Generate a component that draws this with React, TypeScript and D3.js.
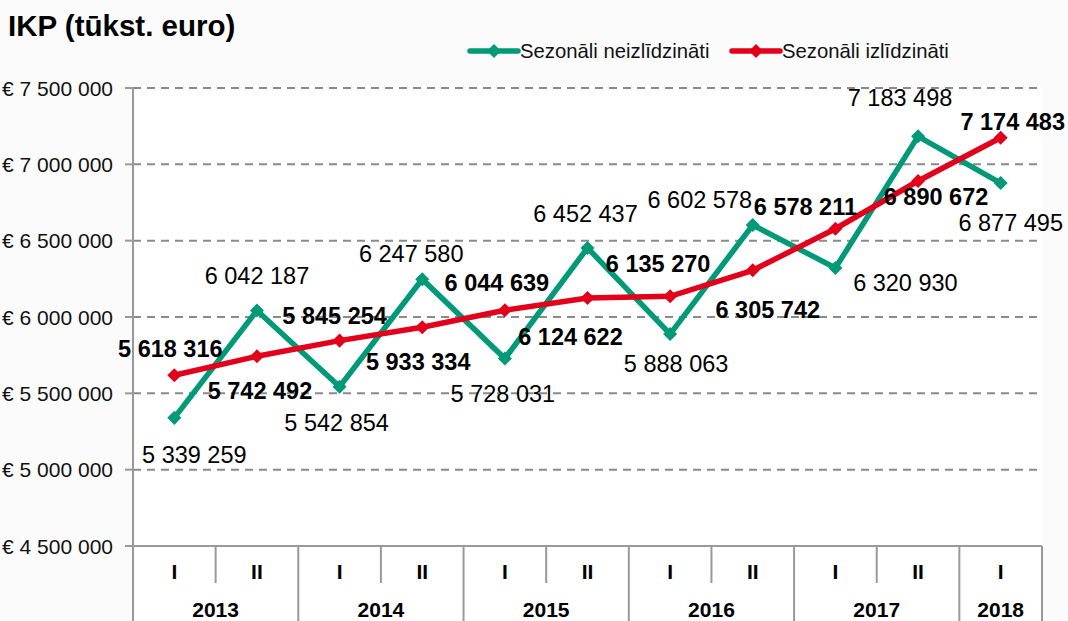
import React, { useEffect, useRef } from "react";
import * as d3 from "d3";

const periods = ["I", "II", "I", "II", "I", "II", "I", "II", "I", "II", "I"];
const years = ["2013", "2013", "2014", "2014", "2015", "2015", "2016", "2016", "2017", "2017", "2018"];
const notAdjusted = [5339259, 6042187, 5542854, 6247580, 5728031, 6452437, 5888063, 6602578, 6320930, 7183498, 6877495];
const adjusted = [5618316, 5742492, 5845254, 5933334, 6044639, 6124622, 6135270, 6305742, 6578211, 6890672, 7174483];
const yTicks = [4500000, 5000000, 5500000, 6000000, 6500000, 7000000, 7500000];

// label nudges (px) relative to each point
const greenOffsets = [[20, 37], [0, -35], [-3, 36], [-11, -26], [-2, 35], [-2, -34], [6, 29], [-53, -25], [70, 15], [-18, -39], [10, 40]];
const redOffsets = [[-4, -27], [3, 34], [-5, -25], [-4, 34], [-8, -28], [-17, 39], [-12, -33], [15, 39], [-30, -22], [18, 16], [12, -16]];

const GREEN = "#009a78";
const RED = "#e2001a";
const FONT = "'Liberation Sans', Arial, sans-serif";

const Chart = () => {
  const ref = useRef<SVGSVGElement>(null);

  useEffect(() => {
    document.body.style.margin = "0";
    const width = 1068;
    const height = 621;
    const left = 133;
    const right = 1042;
    const top = 88;
    const bottom = 546;

    const svg = d3.select(ref.current).attr("width", width).attr("height", height);
    svg.selectAll("*").remove();

    svg.append("rect").attr("width", width).attr("height", height).attr("fill", "#fbfbfb");
    svg.append("rect").attr("x", left).attr("y", top).attr("width", right - left).attr("height", height - top).attr("fill", "#fff");

    const idx = d3.range(periods.length);
    const x = d3.scaleBand<number>().domain(idx).range([left, right]);
    const cx = (i: number) => (x(i) as number) + x.bandwidth() / 2;
    const y = d3.scaleLinear().domain([4500000, 7500000]).range([bottom, top]);
    const fmt = (v: number) => d3.format(",")(v).replace(/,/g, " ");

    // grid
    svg
      .selectAll(".grid")
      .data(yTicks.slice(1))
      .enter()
      .append("line")
      .attr("x1", left)
      .attr("x2", right - 4)
      .attr("y1", (d) => y(d))
      .attr("y2", (d) => y(d))
      .attr("stroke", "#8a8a8a")
      .attr("stroke-width", 2)
      .attr("stroke-dasharray", "8,6");

    // y axis
    svg.append("line").attr("x1", left).attr("x2", left).attr("y1", top).attr("y2", height).attr("stroke", "#999").attr("stroke-width", 2);
    svg
      .selectAll(".ytick")
      .data(yTicks)
      .enter()
      .append("line")
      .attr("x1", left - 8)
      .attr("x2", left)
      .attr("y1", (d) => y(d))
      .attr("y2", (d) => y(d))
      .attr("stroke", "#999")
      .attr("stroke-width", 2);
    svg
      .selectAll(".ylab")
      .data(yTicks)
      .enter()
      .append("text")
      .attr("x", 113)
      .attr("y", (d) => y(d))
      .attr("dy", "0.36em")
      .attr("text-anchor", "end")
      .style("font-family", FONT)
      .style("font-size", "21px")
      .attr("fill", "#111")
      .text((d) => "€ " + fmt(d));

    // category axis
    svg.append("line").attr("x1", left - 8).attr("x2", right).attr("y1", bottom).attr("y2", bottom).attr("stroke", "#999").attr("stroke-width", 2);
    idx.forEach((i) => {
      const xr = (x(i) as number) + x.bandwidth();
      const yearEnd = i === idx.length - 1 || years[i + 1] !== years[i];
      svg
        .append("line")
        .attr("x1", xr)
        .attr("x2", xr)
        .attr("y1", bottom)
        .attr("y2", yearEnd ? height : 583)
        .attr("stroke", "#999")
        .attr("stroke-width", 2);
    });
    svg
      .selectAll(".per")
      .data(idx)
      .enter()
      .append("text")
      .attr("x", (i) => cx(i))
      .attr("y", 571)
      .attr("dy", "0.36em")
      .attr("text-anchor", "middle")
      .style("font-family", FONT)
      .style("font-size", "21px")
      .style("font-weight", "bold")
      .text((i) => periods[i]);

    const yearGroups = d3.groups(idx, (i) => years[i]);
    svg
      .selectAll(".yr")
      .data(yearGroups)
      .enter()
      .append("text")
      .attr("x", (g) => (cx(g[1][0]) + cx(g[1][g[1].length - 1])) / 2)
      .attr("y", 609)
      .attr("dy", "0.36em")
      .attr("text-anchor", "middle")
      .style("font-family", FONT)
      .style("font-size", "21px")
      .style("font-weight", "bold")
      .text((g) => g[0]);

    // series
    const line = d3
      .line<number>()
      .x((_, i) => cx(i))
      .y((d) => y(d));
    const diamond = d3.symbol().type(d3.symbolDiamond2).size(125);

    const series = [
      { values: notAdjusted, color: GREEN },
      { values: adjusted, color: RED },
    ];
    series.forEach((s) => {
      svg
        .append("path")
        .datum(s.values)
        .attr("d", line)
        .attr("fill", "none")
        .attr("stroke", s.color)
        .attr("stroke-width", 5.5)
        .attr("stroke-linejoin", "miter");
      svg
        .selectAll(null)
        .data(s.values)
        .enter()
        .append("path")
        .attr("d", diamond)
        .attr("transform", (d, i) => `translate(${cx(i)},${y(d)})`)
        .attr("fill", s.color);
    });

    // data labels
    const labels = [
      { values: notAdjusted, offsets: greenOffsets, weight: "normal" },
      { values: adjusted, offsets: redOffsets, weight: "bold" },
    ];
    labels.forEach((l) => {
      svg
        .selectAll(null)
        .data(l.values)
        .enter()
        .append("text")
        .attr("x", (d, i) => cx(i) + l.offsets[i][0])
        .attr("y", (d, i) => y(d) + l.offsets[i][1])
        .attr("dy", "0.36em")
        .attr("text-anchor", "middle")
        .style("font-family", FONT)
        .style("font-size", "23.5px")
        .style("font-weight", l.weight)
        .attr("fill", "#000")
        .text((d) => fmt(d));
    });

    // title
    svg
      .append("text")
      .attr("x", 8)
      .attr("y", 36)
      .style("font-family", FONT)
      .style("font-size", "29.5px")
      .style("font-weight", "bold")
      .text("IKP (tūkst. euro)");

    // legend
    const legend = [
      { name: "Sezonāli neizlīdzināti", color: GREEN, x: 470 },
      { name: "Sezonāli izlīdzināti", color: RED, x: 732 },
    ];
    legend.forEach((item) => {
      const g = svg.append("g").attr("transform", `translate(${item.x},51)`);
      g.append("line").attr("x1", 0).attr("x2", 48).attr("stroke", item.color).attr("stroke-width", 5.5).attr("stroke-linecap", "round");
      g.append("path").attr("d", diamond).attr("transform", "translate(24,0)").attr("fill", item.color);
      g.append("text")
        .attr("x", 50)
        .attr("dy", "0.36em")
        .style("font-family", FONT)
        .style("font-size", "20.3px")
        .attr("fill", "#111")
        .text(item.name);
    });
  }, []);

  return <svg ref={ref} style={{ display: "block" }}></svg>;
};

export default function App() {
  return <Chart />;
}
